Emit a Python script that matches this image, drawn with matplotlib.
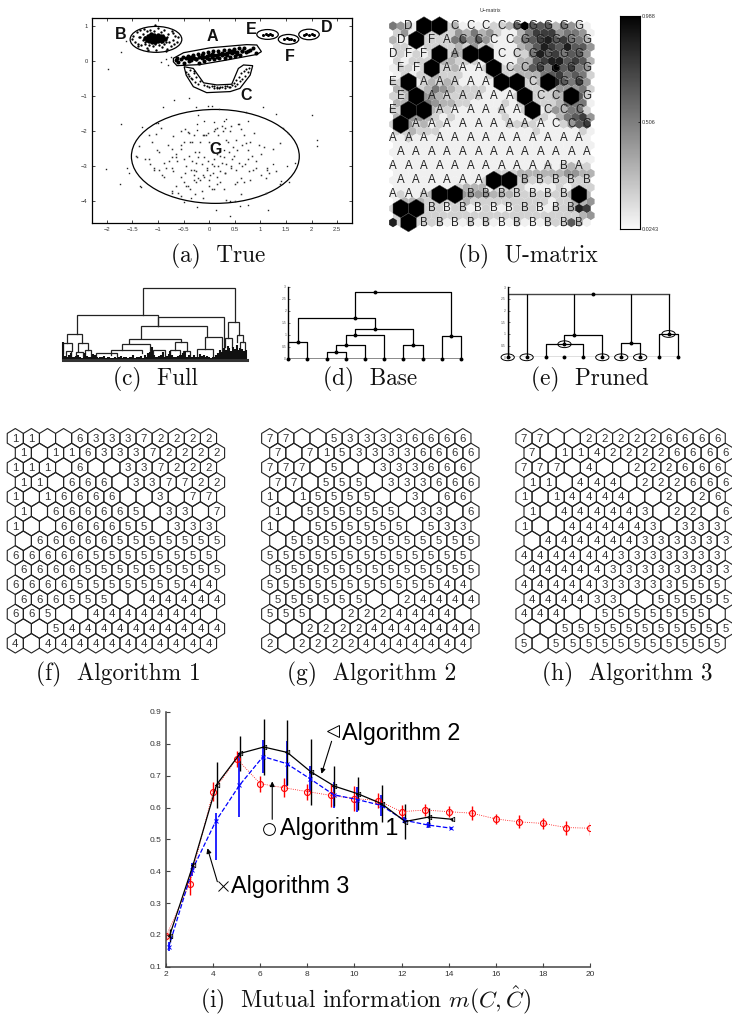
import numpy as np
import matplotlib
matplotlib.use("Agg")
import matplotlib.pyplot as plt
from matplotlib.collections import PolyCollection
from matplotlib.patches import Ellipse, Polygon

plt.rcParams["font.family"] = ["Liberation Sans", "DejaVu Sans"]
plt.rcParams["mathtext.fontset"] = "cm"
W, H = 732, 1017

# (a) True : points
a_sparse_x = [-1.97,-0.68,-0.39,-0.90,-0.25,-0.22,-0.02,0.05,0.20,0.72,1.05,1.30,2.00,2.10,2.10,-1.73,-1.32,-1.03,-1.01,-0.24,-0.24,-0.11,0.09,0.28,0.33,0.57,0.75,1.45,1.53,-0.85,-0.80,-0.95,-0.62,-0.75,-1.62,-1.72,-2.02,-1.75,-1.35,-1.33,-1.57,-1.60,-0.50,-0.24,-0.35,0.13,0.40,0.41,0.61,0.76,1.14,1.40,1.55,1.67,1.52,1.25,0.28]
a_sparse_y = [-0.22,-1.10,-1.04,-1.30,-1.30,-1.54,-1.27,-1.27,-1.36,-1.45,-1.30,-1.52,-1.53,-2.25,-2.41,-1.80,-1.87,-1.76,-1.78,-1.80,-1.97,-1.70,-1.75,-1.70,-1.66,-1.80,-1.72,-1.90,-2.05,0.05,-0.10,-0.03,-0.05,0.12,0.57,0.25,-3.07,-3.50,-3.55,-3.60,-3.18,-3.05,-4.03,-4.15,-3.92,-4.26,-4.00,-4.43,-4.13,-4.10,-4.24,-3.43,-3.45,-2.90,-3.00,-2.95,-2.55]
g_x = [-1.18,-1.12,-1.03,-0.95,-1.38,-1.43,-1.41,-1.18,-1.16,-1.07,-0.98,-0.88,-0.78,-0.73,-0.65,-0.72,-0.70,-0.55,-0.55,-0.50,-0.47,-0.42,-0.40,-0.38,-0.33,-0.30,-0.27,-0.22,-0.18,-0.12,-0.10,-0.07,-0.03,0.00,0.03,0.08,0.10,0.12,0.15,0.17,0.22,0.25,0.27,0.30,0.33,0.37,0.40,0.43,0.47,0.52,0.55,0.58,0.62,0.65,0.68,0.72,0.75,0.80,0.83,0.87,0.92,0.97,1.02,1.08,1.12,1.17,1.25,1.30,1.38,-1.25,-1.08,-1.02,-0.98,-0.88,-0.80,-0.72,-0.65,-0.62,-0.55,-0.50,-0.45,-0.40,-0.33,-0.30,-0.25,-0.20,-0.15,-0.10,-0.05,-0.02,0.02,0.05,0.10,0.15,0.18,0.22,0.25,0.28,0.30,0.33,0.38,0.42,0.45,0.48,0.52,0.58,0.62,0.65,0.70,0.75,0.78,0.85,0.92,1.02,1.10,1.12,-0.92,-0.85,-0.70,-0.55,-0.48,-0.35,-0.30,-0.25,-0.22,-0.12,-0.05,0.00,0.08,0.10,0.15,0.22,0.30,0.42,0.50,0.68,-0.30,-0.18,-0.50,-0.10,0.00,0.10,-0.60,-0.72,-0.42,-0.25,0.05,0.15,-0.45,-0.15,0.28,0.55,0.80,1.10,1.38,-0.72,-0.65,-0.55,-0.38,-0.12,0.32,0.50,0.62,-0.28]
g_y = [-2.10,-2.30,-2.08,-1.90,-2.42,-2.72,-2.75,-2.80,-2.95,-3.05,-3.10,-3.30,-2.85,-2.50,-2.75,-3.05,-2.15,-2.00,-2.40,-2.30,-1.95,-2.02,-2.05,-2.30,-2.30,-2.10,-2.60,-2.75,-2.30,-2.12,-2.12,-2.10,-2.05,-2.30,-2.40,-2.60,-2.00,-1.95,-1.90,-2.10,-2.70,-1.85,-2.00,-1.90,-2.25,-2.30,-2.00,-1.85,-2.45,-2.25,-2.55,-1.80,-1.95,-2.40,-2.10,-2.35,-2.55,-2.30,-2.70,-2.05,-2.85,-2.40,-2.65,-2.45,-3.05,-3.20,-2.50,-3.15,-2.35,-2.78,-3.10,-2.55,-2.60,-2.90,-2.40,-2.75,-2.65,-2.85,-2.50,-2.80,-3.00,-2.70,-2.85,-3.10,-2.90,-2.60,-2.95,-2.75,-3.05,-2.85,-3.25,-2.95,-2.80,-2.65,-3.00,-3.15,-2.90,-2.75,-3.20,-2.95,-2.60,-3.05,-2.80,-2.70,-3.10,-2.90,-3.35,-3.00,-2.95,-2.80,-3.15,-3.10,-3.05,-3.25,-3.35,-3.10,-3.25,-3.05,-3.15,-3.30,-3.20,-3.10,-3.25,-3.15,-3.35,-3.25,-3.10,-3.40,-3.20,-3.00,-3.30,-3.45,-3.20,-3.00,-3.50,-3.45,-3.40,-3.40,-3.45,-3.30,-3.55,-3.65,-3.75,-3.75,-3.55,-3.45,-3.65,-3.50,-3.55,-3.70,-3.65,-3.45,-3.40,-3.75,-3.50,-3.70,-3.55,-3.85,-3.65,-3.90,-3.95,-4.00,-3.80,-3.80]
b_x = [-1.50,-1.48,-1.45,-1.42,-1.40,-1.38,-1.35,-1.33,-1.30,-1.30,-1.28,-1.25,-1.25,-1.22,-1.22,-1.20,-1.18,-1.18,-1.15,-1.15,-1.12,-1.12,-1.10,-1.10,-1.08,-1.08,-1.05,-1.05,-1.03,-1.03,-1.00,-1.00,-0.98,-0.98,-0.95,-0.95,-0.92,-0.92,-0.90,-0.88,-0.88,-0.85,-0.82,-0.80,-0.78,-0.75,-0.72,-0.70,-0.68,-0.66,-0.62,-0.60,-1.35,-1.28,-1.20,-1.15,-1.10,-1.05,-1.00,-0.95,-0.90,-0.82,-1.25,-1.15,-1.05,-0.95,-0.85,-1.18,-1.08,-0.98,-1.12,-1.02,-0.92,-1.40,-0.70,-1.20,-0.85,-1.05]
b_y = [0.62,0.72,0.55,0.82,0.50,0.70,0.88,0.45,0.60,0.78,0.92,0.50,0.70,0.38,0.85,0.60,0.45,0.75,0.65,0.90,0.55,0.78,0.42,0.68,0.60,0.85,0.50,0.72,0.32,0.62,0.58,0.95,0.45,0.72,0.65,0.82,0.40,0.60,0.75,0.50,0.88,0.65,0.35,0.78,0.55,0.42,0.85,0.60,0.48,0.72,0.55,0.68,0.68,0.62,0.70,0.58,0.72,0.60,0.68,0.55,0.62,0.70,0.55,0.66,0.75,0.72,0.55,0.62,0.56,0.60,0.64,0.66,0.58,0.42,0.80,0.32,0.30,1.02]
b_core_x = [-1.25,-1.22,-1.20,-1.17,-1.15,-1.13,-1.10,-1.08,-1.05,-1.03,-1.00,-0.97,-0.95,-0.92,-0.90,-0.87,-1.20,-1.15,-1.10,-1.05,-1.00,-0.95,-1.12,-1.07,-1.02,-0.98,-1.18,-0.93,-1.04,-1.09]
b_core_y = [0.66,0.60,0.72,0.56,0.66,0.76,0.60,0.70,0.55,0.66,0.74,0.60,0.68,0.56,0.70,0.62,0.64,0.71,0.66,0.62,0.58,0.72,0.54,0.74,0.69,0.64,0.68,0.64,0.60,0.63]
a_x = [-0.65,-0.62,-0.60,-0.55,-0.52,-0.50,-0.45,-0.42,-0.40,-0.35,-0.32,-0.30,-0.25,-0.22,-0.20,-0.15,-0.12,-0.10,-0.05,-0.02,0.00,0.05,0.08,0.10,0.15,0.18,0.20,0.25,0.28,0.30,0.35,0.38,0.40,0.45,0.48,0.50,0.55,0.58,0.60,0.65,0.68,0.72,0.75,0.80,0.85,0.92,-0.40,-0.30,-0.20,-0.10,0.00,0.10,0.20,0.30,0.40,0.50,-0.35,-0.15,0.05,0.25,0.45,0.65,-0.25,-0.05,0.15,0.35,0.55]
a_y = [0.03,0.10,-0.02,0.06,0.13,-0.04,0.08,0.15,0.00,0.04,0.17,0.10,0.07,0.20,-0.04,0.10,0.22,0.00,0.14,0.26,0.05,0.12,0.28,0.06,0.16,0.30,0.08,0.18,0.32,0.10,0.22,0.33,0.12,0.24,0.35,0.15,0.26,0.38,0.18,0.28,0.36,0.26,0.30,0.33,0.36,0.24,0.06,0.09,0.12,0.13,0.16,0.17,0.20,0.21,0.25,0.26,0.12,0.16,0.20,0.24,0.28,0.30,0.05,0.09,0.13,0.16,0.20]
c_x = [-0.45,-0.40,-0.38,-0.33,-0.30,-0.28,-0.25,-0.22,-0.18,-0.10,-0.05,0.00,0.05,0.10,0.15,0.20,0.25,0.30,0.35,0.40,0.45,0.48,0.50,0.53,0.55,0.58,0.60,0.63,0.65,0.68,0.70,0.72,0.75,0.78,-0.42,-0.35,-0.30,0.10,0.15,0.22,0.30,0.38]
c_y = [-0.30,-0.42,-0.25,-0.50,-0.35,-0.60,-0.45,-0.65,-0.58,-0.68,-0.72,-0.75,-0.72,-0.76,-0.74,-0.77,-0.74,-0.76,-0.72,-0.75,-0.68,-0.62,-0.72,-0.55,-0.65,-0.45,-0.58,-0.35,-0.50,-0.28,-0.42,-0.22,-0.32,-0.20,-0.38,-0.48,-0.28,-0.72,-0.77,-0.73,-0.72,-0.74]
small_x = [1.05,1.10,1.14,1.18,1.22,1.47,1.52,1.56,1.60,1.65,1.85,1.90,1.95,2.00,2.05]
small_y = [0.75,0.78,0.75,0.77,0.75,0.62,0.65,0.62,0.64,0.61,0.75,0.78,0.75,0.77,0.75]
a_ticks_x = [-2,-1.5,-1,-0.5,0,0.5,1,1.5,2,2.5]
a_ticks_y = [-4,-3,-2,-1,0,1]
outline_a = [(-0.70,0.08),(-0.50,0.24),(0.02,0.38),(0.73,0.47),(0.93,0.46),(1.02,0.27),(0.93,0.19),(0.34,0.03),(-0.18,-0.10),(-0.63,-0.13),(-0.70,-0.02)]
outline_c = [(-0.49,-0.16),(-0.31,-0.21),(-0.11,-0.62),(0.15,-0.68),(0.44,-0.66),(0.57,-0.21),(0.67,-0.11),(0.85,-0.13),(0.80,-0.40),(0.60,-0.78),(0.41,-0.87),(-0.05,-0.90),(-0.31,-0.73),(-0.45,-0.40)]

# (b) U-matrix
u_levels = ["54312222311112236966635421","24132222435342113577745541","31122222564641113567867553",
            "22112222324221113468768664","12121222432211112258675664","21222233222111113367886763",
            "12212322311122223367596754","12122322211122223335675652","22112323211111113223586574",
            "33223543222211113222244452","22334432222211112122233662","33345433221111212122235551",
            "22334322111111211221243552","33443212111111211122135674","22423121111111122221112467",
            "22322211111111111121111121","11211111111111111111111111","11111111111111111111111111",
            "11111111111111111111111111","11111111111111111111111111","11111111111111111111212322",
            "11111111111112223333334433","11111111111122322322222222","11111111233312222111121222",
            "12112333344443332222222313","13332222232222222222122334","22222221221121112221122387",
            "22322222222222222222222234","82522221112121112111222631"]
u_labels = [" D##CCCCGGGGG","D#FACCCCGGGGG","DFF#A##CCGGGG","FF#AAA#CCGGGG","E#AAAAA##C#GG",
            "E#AAAAAA#CC#G","E##AAAAAA#CCC","#AAAAAAAAACCC","AAAAAAAAAAAAA","AAAAAAAAAAAAA",
            "AAAAAAAAAAABA","AAAAAA##BBBBB","AAA##BBBBBBB#","##BBBBBBBBBB "," #BBBBBBBBBBB"]

# (c) Full dendrogram: x1, x2, height, left foot, right foot
full_merges = [(280,556,215,135,115),(80,325,135,78,103),(325,522,128,103,0),(272,470,103,65,70),
               (238,392,62,50,55),(215,300,48,30,25),(183,275,30,15,20),(138,200,22,8,8),(375,410,55,30,28),
               (442,490,32,12,12),(465,515,70,32,20),(52,97,78,52,50),(40,65,52,20,28),(85,115,50,28,30),
               (535,568,115,65,75),(525,545,65,40,40),(560,578,75,55,55),(570,585,55,25,25),(310,345,30,12,10),
               (360,390,30,12,14),(400,420,28,10,10),(48,62,28,10,12),(78,100,25,10,12),(105,122,30,12,12)]
full_leaf_h = [55,12,10,16,22,8,10,12,15,8,6,10,22,12,8,10,18,14,8,6,10,8,12,6,8,10,5,7,10,6,8,12,6,8,10,6,10,8,14,7,10,8,12,6,15,8,20,25,38,14,8,10,12,16,24,10,12,18,26,14,10,8,12,16,14,20,26,10,14,10,8,14,8,10,18,12,16,10,12,8,6,10,8,14,20,30,25,35,30,42,36,28,38,32,45,30,36,34,28,30]

# (d) Base and (e) Pruned dendrograms: x1, x2, node x, height, left foot, right foot
base_merges = [(1,2,1.5,0.69,0,0),(3,4,3.5,0.30,0,0),(3.5,5,4,0.58,0.30,0),(4,6,4.5,1.0,0.58,0),(7,8,7.5,0.58,0,0),
               (4.5,7.5,5.5,1.25,1.0,0.58),(1.5,5.5,4.5,1.72,0.69,1.25),(9,10,9.5,0.96,0,0),(4.5,9.5,5.5,2.78,1.72,0.96)]
pruned_merges = [(3,5,4,0.56,0,0),(4,6,4.5,0.96,0.56,0),(7,8,7.5,0.62,0,0),(9,10,9.5,1.0,0,0)]
pruned_root = [1,2,4.5,7.5,9.5]
pruned_foot = [0,0,0.96,0.62,1.0]
pruned_height = 2.71
pruned_circles_x = [1,2,6,7,8,4,9.5]
pruned_circles_y = [0,0,0,0,0,0.56,1.0]
dend_ticks = [0,0.5,1,1.5,2,2.5,3]
dend_tick_labels = ["0","0.5","1","1.5","2","2.5","3"]

# (f,g,h) SOM maps
map_f = ["11..633372222","1.11633372222","111.6..337222","11.666.337722","1.16666..3.77","1.666665.33.7",
         "1..666655.333",".666665555555","6666655555555","6666555555555","6666555555544","666555..44444",
         "665..4444444.","..54444444444","4.44444444444"]
map_g = ["77..533336666","7.71533336666","777.5..333666","77.555.333666","1.15555..3.66","1.555555.33.6",
         "1..555555.533",".555555555555","5555555555555","5555555555555","5555555555544","555555..24444",
         "555..2224444.","..22224444444","2.22224444444"]
map_h = ["77..222226666","7.11422226666","777.4..222666","11.444.222666","1.14444..2.26","1.444443.22.6",
         "1..444443.333",".444444333333","4444443333333","4444433333333","4444433333555","444433..55555",
         "444..5555555.","..55555555555","5.55555555555"]

# (i) Mutual information
k1 = np.arange(2,21)
alg1 = [0.195,0.36,0.65,0.753,0.675,0.662,0.65,0.638,0.628,0.622,0.587,0.592,0.587,0.582,0.564,0.555,0.55,0.537,0.535]
alg1_err = [0.01,0.035,0.03,0.025,0.025,0.03,0.025,0.035,0.038,0.025,0.022,0.02,0.018,0.022,0.015,0.02,0.018,0.022,0.02]
k2 = np.arange(2,15)+0.15
alg2 = [0.197,0.42,0.672,0.77,0.79,0.773,0.712,0.667,0.643,0.612,0.556,0.57,0.563]
alg2_err = [0.02,0.01,0.072,0.055,0.088,0.102,0.103,0.063,0.052,0.058,0.055,0.03,0.005]
k3 = np.arange(2,15)+0.12
alg3 = [0.163,0.405,0.558,0.67,0.76,0.738,0.69,0.64,0.625,0.607,0.56,0.545,0.535]
alg3_low = [0.015,0.02,0.123,0.1,0.053,0.07,0.04,0.04,0.04,0.033,0.01,0.01,0.005]
alg3_high = [0.015,0.02,0.025,0.1,0.053,0.07,0.04,0.04,0.04,0.033,0.01,0.01,0.005]


def panel(left, top, right, bottom):
    return fig.add_axes([left/W, 1-bottom/H, (right-left)/W, (bottom-top)/H])


def hexes(xs, ys, half_w, half_h):
    return [[(x,y-half_h),(x+half_w,y-half_h/2),(x+half_w,y+half_h/2),(x,y+half_h),(x-half_w,y+half_h/2),(x-half_w,y-half_h/2)] for x,y in zip(xs,ys)]


def caption(x, y, s):
    fig.text(x/W, 1-y/H, s, family="cmr10", fontsize=16.8, ha="center", va="center", color="#111111")


fig = plt.figure(figsize=(W/100,H/100), dpi=100)

# (a)
ax = panel(92,18,352,223)
ax.plot(a_sparse_x,a_sparse_y,"s",ms=1,color="#222222",mew=0)
ax.plot(g_x,g_y,"s",ms=1.1,color="#333333",mew=0)
ax.plot(b_x,b_y,"o",ms=1.7,color="k",mew=0)
ax.plot(b_core_x,b_core_y,"o",ms=3.2,color="k",mew=0)
ax.plot(a_x,a_y,"o",ms=2.9,color="k",mew=0)
ax.plot(c_x,c_y,"o",ms=1.5,color="k",mew=0)
ax.plot(small_x,small_y,"o",ms=2.2,color="k",mew=0)
for cx,cy,w,h in [(-1.04,0.62,1.01,0.74),(1.14,0.76,0.42,0.28),(1.55,0.62,0.40,0.28),(1.95,0.76,0.40,0.30),(0.12,-2.72,3.28,2.68)]:
    ax.add_patch(Ellipse((cx,cy),w,h,fill=False,ec="k",lw=0.9))
ax.add_patch(Polygon(outline_a,closed=True,fill=False,ec="k",lw=0.9))
ax.add_patch(Polygon(outline_c,closed=True,fill=False,ec="k",lw=0.9))
for s,x,y in [("A",0.06,0.70),("B",-1.72,0.75),("C",0.73,-0.98),("D",2.30,0.97),("E",0.82,0.90),("F",1.57,0.13),("G",0.12,-2.53)]:
    ax.text(x,y,s,fontsize=11.5,fontweight="bold",ha="center",va="center",color="#111111")
ax.set_xlim(-2.29,2.79)
ax.set_ylim(-4.62,1.23)
ax.set_xticks(a_ticks_x)
ax.set_xticklabels(["−2","−1.5","−1","−0.5","0","0.5","1","1.5","2","2.5"])
ax.set_yticks(a_ticks_y)
ax.set_yticklabels(["−4","−3","−2","−1","0","1"])
ax.tick_params(direction="in",length=2,width=0.5,labelsize=4.2,pad=3,top=True,right=True,labelcolor="#333333")
for sp in ax.spines.values():
    sp.set_linewidth(0.9)
caption(218,256,"(a)  True")

# (b)
ax = panel(385,14,600,236)
xs, ys, vals = [], [], []
for r,row in enumerate(u_levels):
    for j,c in enumerate(row):
        xs.append(j/2+(r%2)*0.25)
        ys.append(r/2)
        vals.append(int(c))
pc = PolyCollection(hexes(xs,ys,0.25,0.333),array=np.array(vals),cmap="gray_r",clim=(0.5,9),edgecolors="none")
ax.add_collection(pc)
bx, by = [], []
for r,row in enumerate(u_labels):
    for j,c in enumerate(row):
        if c=="#":
            bx.append(j+(r%2)*0.5)
            by.append(r)
ax.add_collection(PolyCollection(hexes(bx,by,0.5,0.66),facecolors="k",edgecolors="#444444",linewidths=0.3))
for r,row in enumerate(u_labels):
    for j,c in enumerate(row):
        if c not in "# ":
            ax.text(j+(r%2)*0.5,r,c,fontsize=8.3,ha="center",va="center",color="#222222")
ax.set_xlim(-0.516,13.35)
ax.set_ylim(14.96,-0.855)
ax.axis("off")
fig.text(490/W,1-10/H,"U−matrix",fontsize=3.8,ha="center",va="center",color="#333333")
cax = panel(620,15.7,640,229)
cax.imshow(np.linspace(0.988,0.0243,200).reshape(-1,1),aspect="auto",cmap="gray_r",vmin=0,vmax=1,extent=(0,1,0.0243,0.988))
cax.set_xticks([])
cax.yaxis.tick_right()
cax.set_yticks([0.0243,0.506,0.988])
cax.set_yticklabels(["0.0243","0.506","0.988"])
cax.tick_params(direction="in",length=1.5,width=0.5,labelsize=4,pad=1,labelcolor="#333333")
for sp in cax.spines.values():
    sp.set_linewidth(0.8)
caption(528,256,"(b)  U-matrix")

# (c)
ax = panel(50,280,250,365)
for x1,x2,h,hl,hr in full_merges:
    ax.plot([x1,x1,x2,x2],[hl,h,h,hr],color="#222222",lw=0.9,solid_joinstyle="miter")
leaf_x = np.linspace(40,588,len(full_leaf_h))
ax.vlines(leaf_x,0,full_leaf_h,color="#111111",lw=1.5)
ax.plot([40,590],[0,0],color="#333333",lw=2.2)
ax.set_xlim(0,600)
ax.set_ylim(-15,240)
ax.axis("off")
caption(155,379,"(c)  Full")

# (d)
ax = panel(288.3,286.7,461,359)
ax.plot([1,10],[0,0],color="#777777",lw=1.2,zorder=1)
for x1,x2,nx,h,hl,hr in base_merges:
    ax.plot([x1,x1,x2,x2],[hl,h,h,hr],color="k",lw=0.9,clip_on=False)
    ax.plot(nx,h,"o",ms=2.8,color="k",mew=0,clip_on=False)
    if hl==0:
        ax.plot(x1,0,"o",ms=2.8,color="k",mew=0,clip_on=False)
    if hr==0:
        ax.plot(x2,0,"o",ms=2.8,color="k",mew=0,clip_on=False)
ax.set_xlim(1,10)
ax.set_ylim(0,3.01)
ax.set_xticks([])
ax.set_yticks(dend_ticks)
ax.set_yticklabels(dend_tick_labels)
ax.tick_params(direction="in",length=1.5,width=0.4,labelsize=2.4,pad=1.5,labelcolor="#555555")
for s in ["top","right","bottom"]:
    ax.spines[s].set_visible(False)
ax.spines["left"].set_linewidth(1.0)
caption(370,379,"(d)  Base")

# (e)
ax = panel(507.7,287.3,678,357.3)
ax.plot([1,10],[0,0],color="k",lw=0.9,zorder=1)
ax.plot([1,9.5],[pruned_height,pruned_height],color="#444444",lw=1.0)
ax.plot(5.5,pruned_height,"o",ms=2.8,color="k",mew=0)
ax.vlines(pruned_root,pruned_foot,pruned_height,color="k",lw=0.9)
for x1,x2,nx,h,hl,hr in pruned_merges:
    ax.plot([x1,x1,x2,x2],[hl,h,h,hr],color="k",lw=0.9,clip_on=False)
    ax.plot(nx,h,"o",ms=2.8,color="k",mew=0,clip_on=False)
ax.plot(np.arange(1,11),[0]*10,"o",ms=2.8,color="k",mew=0,clip_on=False)
for cx,cy in zip(pruned_circles_x,pruned_circles_y):
    ax.add_patch(Ellipse((cx,cy),0.7,0.29,fill=False,ec="k",lw=0.7,clip_on=False))
ax.set_xlim(1,10)
ax.set_ylim(0,3.0)
ax.set_xticks([])
ax.set_yticks(dend_ticks)
ax.set_yticklabels(dend_tick_labels)
ax.tick_params(direction="in",length=1.5,width=0.4,labelsize=2.4,pad=1.5,labelcolor="#555555")
for s in ["top","right","bottom"]:
    ax.spines[s].set_visible(False)
ax.spines["left"].set_linewidth(1.0)
caption(590,379,"(e)  Pruned")

# (f,g,h)
for grid,x0 in [(map_f,15.3),(map_g,269.7),(map_h,524)]:
    ax = panel(x0-14,424,x0+214,662)
    xs, ys = [], []
    for r,row in enumerate(grid):
        for j,c in enumerate(row):
            x = j+(r%2)*0.5
            xs.append(x)
            ys.append(r)
            if c!=".":
                ax.text(x,r+0.03,c,fontsize=8.2,ha="center",va="center",color="#333333")
    ax.add_collection(PolyCollection(hexes(xs,ys,0.5,0.667),facecolors="none",edgecolors="#222222",linewidths=0.8))
    ax.set_xlim(-14/16.1,214/16.1)
    ax.set_ylim((662-438.3)/14.64,(424-438.3)/14.64)
    ax.axis("off")
caption(118,674,"(f)  Algorithm 1")
caption(372,674,"(g)  Algorithm 2")
caption(627,674,"(h)  Algorithm 3")

# (i)
ax = panel(166,712,590,966.7)
ax.errorbar(k1,alg1,yerr=alg1_err,color="red",ls=":",lw=0.6,marker="o",ms=4.3,mfc="none",mew=0.8,elinewidth=1.0,capsize=0)
ax.errorbar(k3,alg3,yerr=[alg3_low,alg3_high],color="blue",ls="--",lw=0.9,marker="x",ms=3,mew=0.7,elinewidth=1.2,capsize=0)
ax.errorbar(k2,alg2,yerr=alg2_err,color="k",ls="-",lw=0.9,marker="<",ms=3.2,mfc="none",mew=0.6,elinewidth=1.0,capsize=0)
ax.annotate("",xy=(8.6,0.706),xytext=(9.03,0.808),arrowprops=dict(arrowstyle="-|>",color="k",lw=0.8,mutation_scale=7,shrinkA=0,shrinkB=0))
ax.annotate("",xy=(6.51,0.682),xytext=(6.51,0.563),arrowprops=dict(arrowstyle="-|>",color="k",lw=0.8,mutation_scale=7,shrinkA=0,shrinkB=0))
ax.annotate("",xy=(3.76,0.472),xytext=(4.18,0.367),arrowprops=dict(arrowstyle="-|>",color="k",lw=0.8,mutation_scale=7,shrinkA=0,shrinkB=0))
ax.plot(9.1,0.841,"<",ms=9,mfc="none",mec="k",mew=0.7)
ax.plot(6.38,0.533,"o",ms=8.5,mfc="none",mec="k",mew=0.7)
ax.plot(4.43,0.352,"x",ms=7,color="k",mew=0.7)
ax.text(9.48,0.834,"Algorithm 2",fontsize=16.8,va="center")
ax.text(6.84,0.533,"Algorithm 1",fontsize=16.8,va="center")
ax.text(4.74,0.352,"Algorithm 3",fontsize=16.8,va="center")
ax.set_xlim(2,20)
ax.set_ylim(0.1,0.9)
ax.set_xticks(np.arange(2,21,2))
ax.set_yticks(np.arange(0.1,0.95,0.1))
ax.tick_params(direction="in",length=3,width=0.8,labelsize=6,pad=3,color="#444444",labelcolor="#333333")
for s in ["top","right"]:
    ax.spines[s].set_visible(False)
for s in ["left","bottom"]:
    ax.spines[s].set_linewidth(1.1)
    ax.spines[s].set_color("#444444")
caption(365,1000,r"(i)  Mutual information $m(C,\hat{C})$")

fig.savefig("out.png",dpi=100)
